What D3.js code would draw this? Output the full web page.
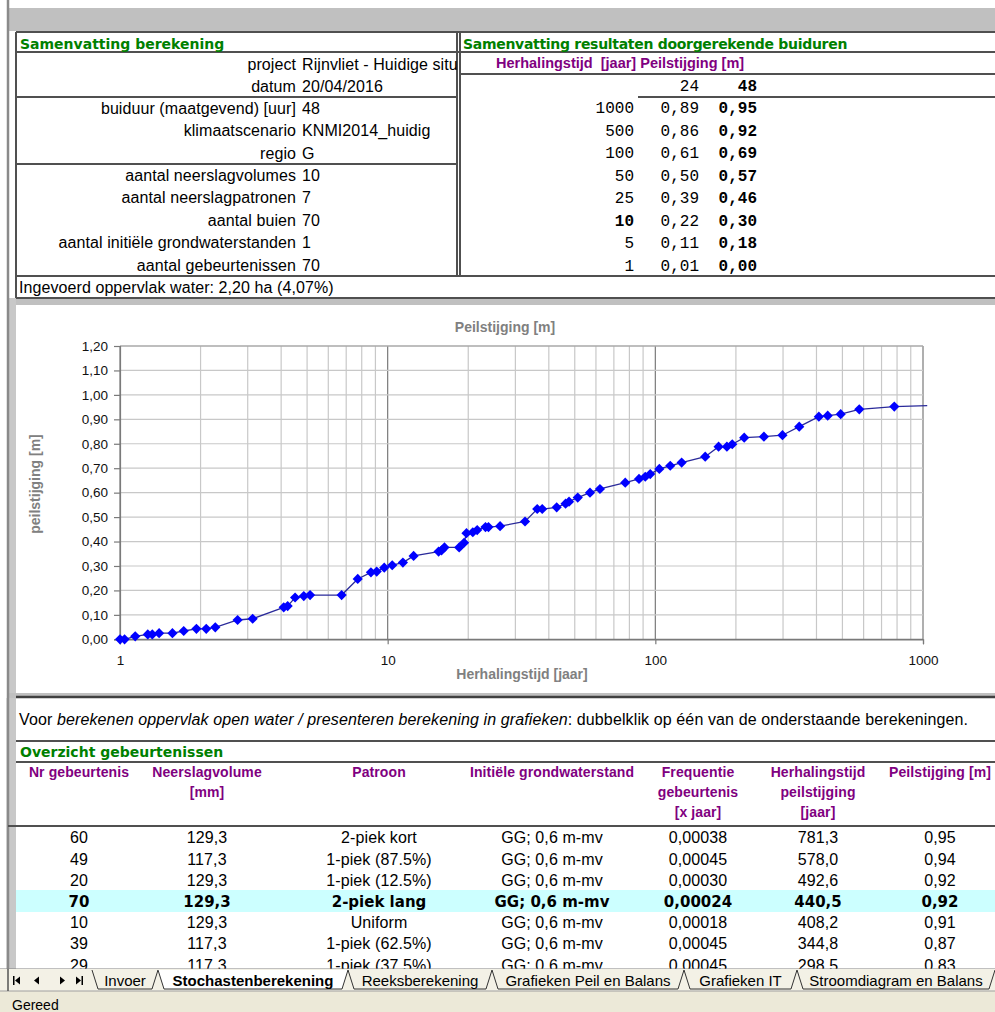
<!DOCTYPE html>
<html><head><meta charset="utf-8">
<script src="https://cdn.jsdelivr.net/npm/d3@7/dist/d3.min.js"></script>
<style>body{margin:0;background:#fff}svg{display:block}</style>
</head><body><svg id="c" width="995" height="1012"></svg>
<script>
// ---------- DATA ----------
const herhalingstijd = [1.00,1.04,1.14,1.27,1.32,1.40,1.57,1.73,1.93,2.10,2.27,2.75,3.13,4.09,4.23,4.51,4.86,5.13,6.73,7.73,8.66,9.10,9.71,10.4,11.4,12.5,15.5,15.9,16.3,18.5,19.3,19.7,20.8,21.6,23.2,23.8,26.3,32.6,36.2,37.8,42.8,46.2,47.6,51.3,57.0,62.1,77.2,86.9,91.7,95.7,103.5,113.7,125.4,153.6,172.3,185.1,193.8,214.8,254.5,298.5,344.8,408.2,440.5,492.6,578.0,781.3];
const peilstijging = [0.000,0.000,0.012,0.020,0.020,0.025,0.025,0.034,0.043,0.043,0.049,0.079,0.084,0.131,0.136,0.171,0.177,0.181,0.181,0.247,0.274,0.277,0.293,0.303,0.314,0.341,0.359,0.364,0.376,0.376,0.395,0.434,0.438,0.447,0.459,0.459,0.463,0.482,0.533,0.533,0.540,0.555,0.563,0.580,0.600,0.615,0.641,0.656,0.665,0.676,0.697,0.710,0.723,0.747,0.788,0.788,0.798,0.825,0.829,0.835,0.870,0.911,0.915,0.921,0.941,0.952];
const lijnEindeT = [1037];
const lijnEindeP = [0.956];
const yTicks = [0,0.1,0.2,0.3,0.4,0.5,0.6,0.7,0.8,0.9,1.0,1.1,1.2];
const xTickLabels = [1,10,100,1000];

const samenvattingLabels = ["project","datum","buiduur (maatgevend) [uur]","klimaatscenario","regio","aantal neerslagvolumes","aantal neerslagpatronen","aantal buien","aantal initiële grondwaterstanden","aantal gebeurtenissen"];
const samenvattingWaarden = ["Rijnvliet - Huidige situ","20/04/2016","48","KNMI2014_huidig","G","10","7","70","1","70"];

const resHerhaling = ["1000","500","100","50","25","10","5","1"];
const res24 = ["0,89","0,86","0,61","0,50","0,39","0,22","0,11","0,01"];
const res48 = ["0,95","0,92","0,69","0,57","0,46","0,30","0,18","0,00"];

const gebNr = ["60","49","20","70","10","39","29"];
const gebVolume = ["129,3","117,3","129,3","129,3","129,3","117,3","117,3"];
const gebPatroon = ["2-piek kort","1-piek (87.5%)","1-piek (12.5%)","2-piek lang","Uniform","1-piek (62.5%)","1-piek (37.5%)"];
const gebGws = ["GG; 0,6 m-mv","GG; 0,6 m-mv","GG; 0,6 m-mv","GG; 0,6 m-mv","GG; 0,6 m-mv","GG; 0,6 m-mv","GG; 0,6 m-mv"];
const gebFreq = ["0,00038","0,00045","0,00030","0,00024","0,00018","0,00045","0,00045"];
const gebHerh = ["781,3","578,0","492,6","440,5","408,2","344,8","298,5"];
const gebPeil = ["0,95","0,94","0,92","0,92","0,91","0,87","0,83"];
const tabs = ["Invoer","Stochastenberekening","Reeksberekening","Grafieken Peil en Balans","Grafieken IT","Stroomdiagram en Balans"];

// ---------- STYLE ----------
const SANS = "'Liberation Sans', Arial, sans-serif";
const VERD = "'DejaVu Sans', Verdana, sans-serif";
const MONO = "'Liberation Mono', 'Courier New', monospace";
const GREEN = "#008000", PURPLE = "#800080", LINE = "#505050";

const svg = d3.select("#c");
function txt(x, y, s, o = {}) {
  const t = svg.append("text").attr("x", x).attr("y", y)
    .attr("font-family", o.font || SANS).attr("font-size", o.size || 16)
    .attr("fill", o.fill || "#000").attr("text-anchor", o.anchor || "start");
  if (o.bold) t.attr("font-weight", "bold");
  if (o.ls) t.attr("letter-spacing", o.ls);
  t.text(s);
  return t;
}
function hline(x1, x2, y, w = 2, c = LINE) {
  svg.append("line").attr("x1", x1).attr("x2", x2).attr("y1", y).attr("y2", y).attr("stroke", c).attr("stroke-width", w);
}
function vline(x, y1, y2, w = 2, c = LINE) {
  svg.append("line").attr("x1", x).attr("x2", x).attr("y1", y1).attr("y2", y2).attr("stroke", c).attr("stroke-width", w);
}

// background frames
svg.append("rect").attr("x", 9).attr("y", 8).attr("width", 986).attr("height", 23).attr("fill", "#c0c0c0");
svg.append("rect").attr("x", 9).attr("y", 298).attr("width", 986).attr("height", 7).attr("fill", "#c0c0c0");
svg.append("rect").attr("x", 9).attr("y", 298).attr("width", 7).attr("height", 402).attr("fill", "#c8c8c8");
svg.append("rect").attr("x", 9).attr("y", 693).attr("width", 986).attr("height", 5).attr("fill", "#c0c0c0");
vline(8, 0, 970, 2.5, "#8a8a8a");

// ---------- TOP LEFT TABLE ----------
hline(16, 995, 32);
hline(16, 995, 52);
hline(459, 995, 74);
hline(16, 458, 97);
hline(638, 995, 97);
hline(16, 458, 164);
hline(16, 995, 276);
hline(16, 995, 298);
vline(16, 32, 298);
vline(457, 32, 276, 2);
vline(460, 32, 276, 2);

txt(20, 48.5, "Samenvatting berekening", { font: VERD, size: 14, bold: true, fill: GREEN });
txt(463, 48.5, "Samenvatting resultaten doorgerekende buiduren", { font: VERD, size: 14, bold: true, fill: GREEN, ls: -0.3 });

const leftRowsY = [64.3, 86, 108.3, 130.7, 153, 175, 197.7, 220, 242.7, 265];
samenvattingLabels.forEach((l, i) => {
  txt(296, leftRowsY[i] + 5.5, l, { anchor: "end", ls: 0.08 });
  txt(302, leftRowsY[i] + 5.5, samenvattingWaarden[i], { ls: 0.08 });
});
txt(19, 287 + 5.5, "Ingevoerd oppervlak water: 2,20 ha (4,07%)", { ls: 0.08 });

// ---------- TOP RIGHT TABLE ----------
txt(496, 63.3 + 5, "Herhalingstijd  [jaar] Peilstijging [m]", { size: 14.5, bold: true, fill: PURPLE }).style("white-space", "pre");
txt(699, 86 + 5, "24", { font: MONO, size: 16, anchor: "end" });
txt(757, 86 + 5, "48", { font: MONO, size: 16, anchor: "end", bold: true });
const rightRowsY = [108.3, 131, 153.3, 175.7, 198.3, 220.7, 243.3, 265.7];
resHerhaling.forEach((h, i) => {
  txt(634, rightRowsY[i] + 5, h, { font: MONO, size: 16, anchor: "end", bold: h === "10" });
  txt(699, rightRowsY[i] + 5, res24[i], { font: MONO, size: 16, anchor: "end" });
  txt(757, rightRowsY[i] + 5, res48[i], { font: MONO, size: 16, anchor: "end", bold: true });
});

// ---------- CHART ----------
svg.append("rect").attr("x", 16).attr("y", 305).attr("width", 979).attr("height", 388).attr("fill", "#fff");
const x = d3.scaleLog().domain([1, 1000]).range([120, 923]);
const y = d3.scaleLinear().domain([0, 1.2]).range([639.3, 346]);
const g = svg.append("g");
const vt = x.ticks();
g.selectAll(".vg").data(vt).enter().append("line")
  .attr("x1", d => x(d)).attr("x2", d => x(d)).attr("y1", y(1.2)).attr("y2", y(0))
  .attr("stroke", d => (Math.abs(Math.log10(d) - Math.round(Math.log10(d))) < 1e-9 ? "#7a7a7a" : "#c8c8c8"))
  .attr("stroke-width", 1.2);
g.selectAll(".hg").data(yTicks).enter().append("line")
  .attr("x1", x(1)).attr("x2", x(1000)).attr("y1", d => y(d)).attr("y2", d => y(d))
  .attr("stroke", d => (d === 0 ? "#7a7a7a" : "#c8c8c8")).attr("stroke-width", 1.2);
g.append("line").attr("x1", x(1)).attr("x2", x(1000)).attr("y1", y(1.2)).attr("y2", y(1.2)).attr("stroke", "#9a9a9a").attr("stroke-width", 1.2);

const yAxis = d3.axisLeft(y).tickValues(yTicks).tickSize(6).tickPadding(6)
  .tickFormat(d => d3.format(".2f")(d).replace(".", ","));
const ya = svg.append("g").attr("transform", `translate(${x(1)},0)`).call(yAxis);
const xAxis = d3.axisBottom(x).tickValues(xTickLabels).tickSize(5).tickPadding(11).tickFormat(d3.format("d"));
const xa = svg.append("g").attr("transform", `translate(0,${y(0)})`).call(xAxis);
[ya, xa].forEach(a => {
  a.select(".domain").attr("stroke", "#7a7a7a").attr("stroke-width", 1.2);
  a.selectAll(".tick line").attr("stroke", "#7a7a7a").attr("stroke-width", 1.2);
  a.selectAll("text").attr("font-family", SANS).attr("font-size", 13.5).attr("fill", "#111");
});

const pts = herhalingstijd.map((t, i) => [t, peilstijging[i]]);
const linePts = pts.concat(lijnEindeT.map((t, i) => [t, lijnEindeP[i]]));
svg.append("path").datum(linePts)
  .attr("d", d3.line().x(d => x(d[0])).y(d => y(d[1])))
  .attr("fill", "none").attr("stroke", "#2a2a9a").attr("stroke-width", 1.3);
const sym = d3.symbol().type(d3.symbolSquare).size(52);
svg.selectAll(".pt").data(pts).enter().append("path")
  .attr("d", sym).attr("fill", "#0000ff")
  .attr("transform", d => `translate(${x(d[0])},${y(d[1])}) rotate(45)`);

txt(505, 332, "Peilstijging [m]", { size: 14, bold: true, fill: "#808080", anchor: "middle" });
txt(522, 679, "Herhalingstijd [jaar]", { size: 14, bold: true, fill: "#808080", anchor: "middle" });
txt(0, 0, "peilstijging [m]", { size: 14, bold: true, fill: "#808080", anchor: "middle" })
  .attr("transform", "translate(40,484) rotate(-90)");

// ---------- BOTTOM TABLE ----------
hline(16, 995, 697, 2.5, "#404040");
svg.append("rect").attr("x", 9).attr("y", 698).attr("width", 7).attr("height", 272).attr("fill", "#c8c8c8");
vline(8, 698, 970, 2.5, "#8a8a8a");
const intro = txt(19, 719.3 + 5.5, "", { ls: 0.12 });
intro.append("tspan").text("Voor ");
intro.append("tspan").attr("font-style", "italic").text("berekenen oppervlak open water / presenteren berekening in grafieken");
intro.append("tspan").text(": dubbelklik op één van de onderstaande berekeningen.");

hline(16, 995, 741);
txt(20, 752.3 + 5, "Overzicht gebeurtenissen", { font: VERD, size: 14, bold: true, fill: GREEN });
hline(16, 995, 762);
hline(8, 995, 826);

const colX = [79, 207, 379, 552, 698, 818, 940];
const hdr = [["Nr gebeurtenis"], ["Neerslagvolume", "[mm]"], ["Patroon"], ["Initiële grondwaterstand"], ["Frequentie", "gebeurtenis", "[x jaar]"], ["Herhalingstijd", "peilstijging", "[jaar]"], ["Peilstijging [m]"]];
hdr.forEach((lines, i) => lines.forEach((l, j) => {
  txt(colX[i], 772.3 + 20 * j + 5, l, { size: 14, bold: true, fill: PURPLE, anchor: "middle", ls: 0.1 });
}));

const rowY = [837.7, 859, 880.3, 901.3, 922.3, 943.7, 965];
svg.append("rect").attr("x", 16).attr("y", 890).attr("width", 979).attr("height", 22).attr("fill", "#ccffff");
const cols = [gebNr, gebVolume, gebPatroon, gebGws, gebFreq, gebHerh, gebPeil];
gebNr.forEach((n, r) => {
  const hl = n === "70";
  cols.forEach((c, ci) => {
    txt(colX[ci], rowY[r] + 5.5, c[r], { anchor: "middle", bold: hl, font: hl ? VERD : SANS, size: hl ? 15 : 16, ls: hl ? 0 : 0.1 });
  });
});

// ---------- TAB BAR & STATUS ----------
svg.append("rect").attr("x", 0).attr("y", 969).attr("width", 995).attr("height", 43).attr("fill", "#ece9d8");
hline(0, 995, 969, 1, "#808080");
svg.append("rect").attr("x", 0).attr("y", 969).attr("width", 995).attr("height", 22).attr("fill", "#f3f1e6");
hline(0, 995, 991, 1, "#a0a0a0");
vline(8, 969, 991, 1.5, "#555");
const nav = svg.append("g").attr("fill", "#000");
nav.append("rect").attr("x", 13).attr("y", 976).attr("width", 1.5).attr("height", 9);
nav.append("path").attr("d", "M15,980.5 L20,976.5 L20,984.5Z");
nav.append("path").attr("d", "M34,980.5 L39,976.5 L39,984.5Z");
nav.append("path").attr("d", "M60,976.5 L65,980.5 L60,984.5Z");
nav.append("path").attr("d", "M76,976.5 L81,980.5 L76,984.5Z");
nav.append("rect").attr("x", 81.5).attr("y", 976).attr("width", 1.5).attr("height", 9);
const tabX = [[92, 158], [158, 348], [348, 492], [492, 684], [684, 797], [797, 995]];
const tabG = svg.append("g");
tabs.forEach((t, i) => {
  const [a, b] = tabX[i];
  const active = i === 1;
  tabG.append("path")
    .attr("d", `M${a},970 L${a + 6},989 L${b - 6},989 L${b},970`)
    .attr("fill", active ? "#fff" : "none").attr("stroke", "#333").attr("stroke-width", 1);
  txt((a + b) / 2, 986, t, { size: 15, bold: active, anchor: "middle" });
});
txt(12, 1010, "Gereed", { size: 14 });
</script></body></html>
